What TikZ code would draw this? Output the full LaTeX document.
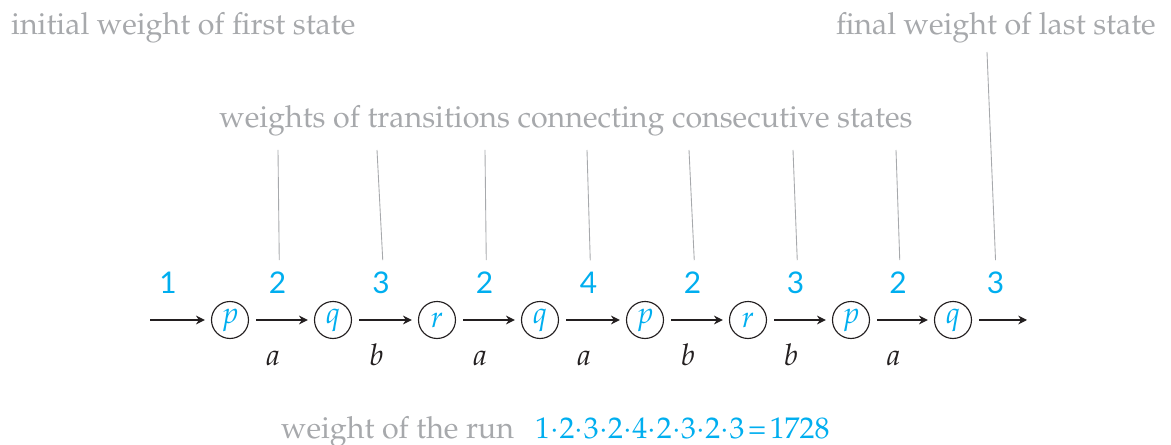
\documentclass[tikz,border=0pt]{standalone}
\usepackage{fontspec}
\newfontfamily\wtsans{Lato}
\usepackage[T1]{fontenc}
\usepackage{mathpazo}
\usetikzlibrary{arrows.meta}

\definecolor{runblue}{HTML}{00AEEF}
\definecolor{notegray}{HTML}{A7A9AC}
\definecolor{inkblack}{HTML}{231F20}

\newcommand{\wtfont}{\fontsize{17}{20}\wtsans}

\tikzset{
  state/.style={draw=inkblack, line width=0.65pt, circle, minimum size=0.74cm, inner sep=0pt,
    text=runblue, font=\fontsize{17}{20}\selectfont},
  tr/.style={draw=inkblack, line width=0.7pt, -{Stealth[length=5pt,width=5pt]},
    shorten <=4pt, shorten >=3.5pt},
  wt/.style={text=runblue, font=\wtfont, anchor=base, yshift=0.54cm,
    xshift=-0.08cm, outer sep=3pt},
  sym/.style={text=inkblack, font=\fontsize{17}{20}\selectfont, anchor=base, yshift=-0.92cm,
    xshift=-0.17cm},
  note/.style={text=notegray, font=\fontsize{17.3}{20}\selectfont},
  guide/.style={draw=notegray, line width=0.5pt},
}

\begin{document}
\begin{tikzpicture}[x=0.02cm, y=-0.02cm]
  \useasboundingbox (0,0) rectangle (1171,445);

  % states of the run
  \node[state] (s1) at (230,320) {$p$};
  \node[state] (s2) at (333,320) {$q$};
  \node[state] (s3) at (437,320) {$r$};
  \node[state] (s4) at (540,320) {$q$};
  \node[state] (s5) at (645,320) {$p$};
  \node[state] (s6) at (748,320) {$r$};
  \node[state] (s7) at (851,320) {$p$};
  \node[state] (s8) at (953,320) {$q$};
  \coordinate (in) at (150,320);
  \coordinate (out) at (1027,320);

  % transitions: weight above, letter below
  \draw[tr, shorten <=0pt] (in) -- node[wt, pos=0.36] (w1) {1} (s1);
  \draw[tr] (s1) -- node[wt] (w2) {2} node[sym] {$a$} (s2);
  \draw[tr] (s2) -- node[wt] (w3) {3} node[sym] {$b$} (s3);
  \draw[tr] (s3) -- node[wt] (w4) {2} node[sym] {$a$} (s4);
  \draw[tr] (s4) -- node[wt] (w5) {4} node[sym] {$a$} (s5);
  \draw[tr] (s5) -- node[wt] (w6) {2} node[sym] {$b$} (s6);
  \draw[tr] (s6) -- node[wt] (w7) {3} node[sym] {$b$} (s7);
  \draw[tr] (s7) -- node[wt] (w8) {2} node[sym] {$a$} (s8);
  \draw[tr, shorten >=0pt] (s8) -- node[wt] (w9) {3} (out);

  % notes
  \node[note, anchor=base west] (ini) at (5,35) {initial weight of first state};
  \node[note, anchor=base east] (fin) at (1162,35) {final weight of last state};
  \node[note, anchor=base] (trans) at (566,128) {weights of transitions connecting consecutive states};
  \node[note, anchor=base west] (run) at (275,439) {weight of the run};
  \node[text=runblue, font=\fontsize{17}{20}\selectfont, anchor=base west] (total) at (529,439)
    {1${\cdot}$2${\cdot}$3${\cdot}$2${\cdot}$4${\cdot}$2${\cdot}$3${\cdot}$2${\cdot}$3\kern2pt=\kern2pt1728};

  % guide lines
  \coordinate (g2) at (278,150);
  \coordinate (g3) at (377,150);
  \coordinate (g4) at (485,150);
  \coordinate (g5) at (587,150);
  \coordinate (g6) at (689,150);
  \coordinate (g7) at (793,150);
  \coordinate (g8) at (896,150);
  \coordinate (g9) at (987,52);
  \draw[guide] (g2) -- ([xshift=1pt]w2.north);
  \draw[guide] (g3) -- ([xshift=1pt]w3.north);
  \draw[guide] (g4) -- ([xshift=1pt]w4.north);
  \draw[guide] (g5) -- ([xshift=1pt]w5.north);
  \draw[guide] (g6) -- ([xshift=1pt]w6.north);
  \draw[guide] (g7) -- ([xshift=1pt]w7.north);
  \draw[guide] (g8) -- ([xshift=1pt]w8.north);
  \draw[guide] (g9) -- (w9.north);
\end{tikzpicture}
\end{document}
